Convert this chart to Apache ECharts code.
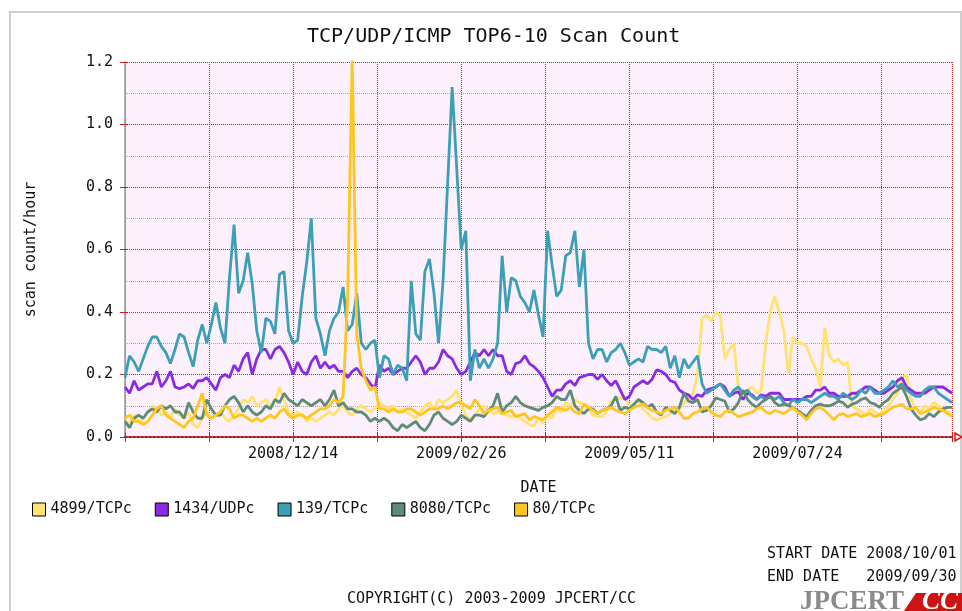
<!DOCTYPE html>
<html>
<head>
<meta charset="utf-8">
<script src="https://cdn.jsdelivr.net/npm/echarts@6/dist/echarts.min.js"></script>
<style>
html, body { margin: 0; padding: 0; background: #fff; }
#chart { width: 962px; height: 611px; }
</style>
</head>
<body>
<div id="chart"></div>
<script>
// one sample every 2 days, day 0 = 2008/10/01
const startDate = '2008/10/01'
const endDate = '2009/09/30'
const sampleStep = 2
const tickLabels = ['2008/12/14', '2009/02/26', '2009/05/11', '2009/07/24']
const seriesNames = ['4899/TCPc', '1434/UDPc', '139/TCPc', '8080/TCPc', '80/TCPc']
const seriesColors = ['#ffe270', '#8a2be2', '#3d9fb6', '#5e8c76', '#ffc61e']

const port4899 = [
  0.05, 0.04, 0.07, 0.05, 0.06, 0.08, 0.10, 0.09, 0.07, 0.08,
  0.06, 0.09, 0.07, 0.06, 0.08, 0.04, 0.03, 0.06, 0.08, 0.06,
  0.07, 0.08, 0.06, 0.05, 0.07, 0.09, 0.12, 0.11, 0.13, 0.10,
  0.11, 0.12, 0.10, 0.11, 0.16, 0.12, 0.08, 0.07, 0.08, 0.07,
  0.05, 0.06, 0.05, 0.06, 0.07, 0.08, 0.07, 0.09, 0.10, 0.08,
  0.07, 0.09, 0.10, 0.09, 0.08, 0.09, 0.11, 0.10, 0.09, 0.10,
  0.08, 0.09, 0.08, 0.07, 0.06, 0.08, 0.10, 0.11, 0.09, 0.12,
  0.11, 0.12, 0.13, 0.15, 0.10, 0.07, 0.055, 0.07, 0.09, 0.10,
  0.085, 0.075, 0.08, 0.075, 0.07, 0.065, 0.07, 0.06, 0.05, 0.04,
  0.035, 0.06, 0.045, 0.07, 0.06, 0.09, 0.08, 0.11, 0.10, 0.12,
  0.11, 0.105, 0.09, 0.07, 0.065, 0.065, 0.08, 0.115, 0.12, 0.125,
  0.13, 0.10, 0.10, 0.12, 0.09, 0.075, 0.06, 0.055, 0.06, 0.065,
  0.075, 0.085, 0.09, 0.11, 0.12, 0.14, 0.20, 0.38, 0.39, 0.37,
  0.40, 0.39, 0.25, 0.28, 0.30, 0.15, 0.14, 0.15, 0.16, 0.14,
  0.15, 0.30, 0.40, 0.45, 0.40, 0.34, 0.20, 0.32, 0.30, 0.30,
  0.29, 0.25, 0.22, 0.16, 0.35, 0.26, 0.24, 0.25, 0.23, 0.24,
  0.10, 0.09, 0.08, 0.07, 0.09, 0.08, 0.07, 0.09, 0.10, 0.12,
  0.14, 0.19, 0.20, 0.12, 0.09, 0.08, 0.10, 0.09, 0.11, 0.10,
  0.09, 0.08, 0.07
]
const port1434 = [
  0.16, 0.14, 0.18, 0.15, 0.16, 0.17, 0.17, 0.21, 0.16, 0.18,
  0.21, 0.16, 0.155, 0.16, 0.17, 0.155, 0.18, 0.18, 0.19, 0.17,
  0.15, 0.19, 0.20, 0.19, 0.23, 0.21, 0.25, 0.27, 0.20, 0.25,
  0.28, 0.28, 0.25, 0.28, 0.29, 0.27, 0.24, 0.20, 0.24, 0.21,
  0.20, 0.24, 0.26, 0.22, 0.24, 0.22, 0.23, 0.21, 0.21, 0.19,
  0.21, 0.22, 0.20, 0.19, 0.17, 0.155, 0.23, 0.21, 0.22, 0.20,
  0.21, 0.22, 0.22, 0.24, 0.26, 0.24, 0.20, 0.22, 0.22, 0.24,
  0.28, 0.26, 0.25, 0.22, 0.20, 0.21, 0.24, 0.27, 0.26, 0.28,
  0.26, 0.28, 0.26, 0.26, 0.21, 0.20, 0.235, 0.24, 0.26, 0.235,
  0.225, 0.21, 0.19, 0.16, 0.13, 0.15, 0.15, 0.17, 0.18, 0.165,
  0.19, 0.195, 0.20, 0.20, 0.185, 0.20, 0.18, 0.165, 0.18, 0.15,
  0.12, 0.13, 0.16, 0.17, 0.18, 0.17, 0.185, 0.215, 0.21, 0.20,
  0.18, 0.175, 0.15, 0.14, 0.135, 0.12, 0.135, 0.13, 0.15, 0.155,
  0.16, 0.17, 0.16, 0.13, 0.14, 0.145, 0.12, 0.14, 0.135, 0.12,
  0.135, 0.13, 0.14, 0.14, 0.14, 0.12, 0.12, 0.12, 0.12, 0.12,
  0.13, 0.13, 0.15, 0.15, 0.16, 0.14, 0.14, 0.13, 0.13, 0.13,
  0.14, 0.14, 0.15, 0.16, 0.16, 0.15, 0.14, 0.14, 0.15, 0.16,
  0.18, 0.19, 0.16, 0.15, 0.14, 0.14, 0.14, 0.15, 0.16, 0.16,
  0.16, 0.15, 0.14
]
const port139 = [
  0.19, 0.26, 0.24, 0.21, 0.25, 0.29, 0.32, 0.32, 0.29, 0.27,
  0.235, 0.28, 0.33, 0.32, 0.27, 0.225, 0.31, 0.36, 0.30, 0.36,
  0.43, 0.35, 0.30, 0.51, 0.68, 0.46, 0.50, 0.59, 0.49, 0.34,
  0.27, 0.38, 0.37, 0.33, 0.52, 0.53, 0.34, 0.30, 0.31, 0.45,
  0.56, 0.70, 0.38, 0.33, 0.26, 0.34, 0.38, 0.40, 0.48, 0.34,
  0.36, 0.46, 0.30, 0.28, 0.30, 0.31, 0.19, 0.26, 0.25, 0.20,
  0.23, 0.22, 0.18, 0.50, 0.33, 0.31, 0.53, 0.57, 0.46, 0.30,
  0.50, 0.81, 1.12, 0.86, 0.60, 0.66, 0.18, 0.28, 0.22, 0.25,
  0.22, 0.25, 0.30, 0.58, 0.40, 0.51, 0.50, 0.45, 0.43, 0.40,
  0.47, 0.39, 0.32, 0.66, 0.55, 0.45, 0.47, 0.58, 0.59, 0.66,
  0.48, 0.60, 0.30, 0.25, 0.28, 0.28, 0.24, 0.27, 0.28, 0.30,
  0.27, 0.23, 0.24, 0.25, 0.24, 0.29, 0.28, 0.28, 0.27, 0.29,
  0.22, 0.26, 0.19, 0.25, 0.22, 0.24, 0.26, 0.17, 0.14, 0.15,
  0.16, 0.17, 0.15, 0.13, 0.15, 0.16, 0.14, 0.15, 0.13, 0.12,
  0.13, 0.12, 0.13, 0.12, 0.13, 0.11, 0.10, 0.12, 0.11, 0.12,
  0.12, 0.11, 0.12, 0.13, 0.14, 0.13, 0.13, 0.12, 0.14, 0.13,
  0.12, 0.13, 0.15, 0.14, 0.16, 0.14, 0.14, 0.15, 0.16, 0.18,
  0.16, 0.17, 0.15, 0.14, 0.13, 0.13, 0.15, 0.16, 0.16, 0.14,
  0.13, 0.12, 0.11
]
const port8080 = [
  0.05, 0.03, 0.06, 0.07, 0.06, 0.08, 0.09, 0.08, 0.10, 0.09,
  0.10, 0.08, 0.08, 0.06, 0.11, 0.08, 0.06, 0.06, 0.12, 0.09,
  0.07, 0.07, 0.10, 0.12, 0.13, 0.11, 0.08, 0.10, 0.08, 0.07,
  0.08, 0.10, 0.09, 0.12, 0.11, 0.14, 0.12, 0.11, 0.10, 0.12,
  0.11, 0.10, 0.11, 0.12, 0.10, 0.12, 0.15, 0.10, 0.11, 0.09,
  0.09, 0.08, 0.08, 0.07, 0.05, 0.06, 0.05, 0.06, 0.05, 0.03,
  0.02, 0.04, 0.03, 0.04, 0.05, 0.03, 0.02, 0.04, 0.07, 0.08,
  0.06, 0.05, 0.04, 0.05, 0.07, 0.06, 0.05, 0.07, 0.07, 0.065,
  0.085, 0.10, 0.14, 0.08, 0.10, 0.11, 0.13, 0.11, 0.10, 0.095,
  0.09, 0.085, 0.095, 0.10, 0.11, 0.13, 0.12, 0.12, 0.15, 0.10,
  0.085, 0.075, 0.09, 0.09, 0.075, 0.085, 0.09, 0.10, 0.13, 0.085,
  0.095, 0.09, 0.105, 0.12, 0.11, 0.095, 0.105, 0.08, 0.07, 0.095,
  0.085, 0.075, 0.095, 0.14, 0.115, 0.11, 0.12, 0.08, 0.085, 0.10,
  0.125, 0.12, 0.115, 0.08, 0.09, 0.11, 0.15, 0.12, 0.105, 0.095,
  0.11, 0.12, 0.13, 0.11, 0.10, 0.105, 0.10, 0.095, 0.085, 0.075,
  0.065, 0.085, 0.10, 0.105, 0.10, 0.10, 0.105, 0.115, 0.11, 0.095,
  0.105, 0.11, 0.12, 0.125, 0.11, 0.105, 0.095, 0.11, 0.12, 0.14,
  0.15, 0.16, 0.13, 0.09, 0.07, 0.055, 0.06, 0.075, 0.065, 0.08,
  0.09, 0.095, 0.095
]
const port80 = [
  0.06, 0.07, 0.05, 0.05, 0.04, 0.05, 0.07, 0.09, 0.10, 0.07,
  0.06, 0.05, 0.04, 0.03, 0.05, 0.06, 0.10, 0.14, 0.07, 0.06,
  0.07, 0.08, 0.10, 0.09, 0.06, 0.07, 0.07, 0.06, 0.05, 0.06,
  0.05, 0.06, 0.07, 0.06, 0.08, 0.09, 0.07, 0.06, 0.07, 0.07,
  0.06, 0.07, 0.08, 0.09, 0.09, 0.10, 0.12, 0.11, 0.13, 0.45,
  1.21, 0.33, 0.22, 0.18, 0.15, 0.16, 0.09, 0.09, 0.08, 0.09,
  0.08, 0.08, 0.09, 0.09, 0.08, 0.07, 0.08, 0.09, 0.09, 0.09,
  0.10, 0.09, 0.10, 0.11, 0.11, 0.10, 0.09, 0.12, 0.10, 0.075,
  0.085, 0.09, 0.095, 0.075, 0.08, 0.085, 0.065, 0.07, 0.075, 0.055,
  0.065, 0.06, 0.055, 0.07, 0.08, 0.095, 0.09, 0.085, 0.095, 0.08,
  0.075, 0.105, 0.095, 0.085, 0.075, 0.085, 0.09, 0.095, 0.085, 0.08,
  0.075, 0.085, 0.095, 0.10, 0.105, 0.095, 0.085, 0.08, 0.075, 0.085,
  0.09, 0.095, 0.08, 0.06, 0.06, 0.075, 0.08, 0.09, 0.095, 0.08,
  0.07, 0.065, 0.08, 0.085, 0.075, 0.065, 0.07, 0.075, 0.08, 0.09,
  0.095, 0.08, 0.075, 0.085, 0.08, 0.075, 0.085, 0.095, 0.08, 0.07,
  0.055, 0.075, 0.09, 0.095, 0.085, 0.07, 0.055, 0.07, 0.075, 0.065,
  0.07, 0.075, 0.065, 0.07, 0.075, 0.065, 0.07, 0.075, 0.085, 0.095,
  0.10, 0.105, 0.09, 0.09, 0.095, 0.075, 0.08, 0.085, 0.095, 0.09,
  0.085, 0.075, 0.065
]

const allSeries = [port4899, port1434, port139, port8080, port80]
const days = port4899.map((v, i) => i * sampleStep)

const mono = 'DejaVu Sans Mono'
const gridRed = '#c82020'
const dayInterval = 37

const chart = echarts.init(document.getElementById('chart'))

const option = {
  animation: false,
  backgroundColor: '#fff',
  title: {
    text: 'TCP/UDP/ICMP TOP6-10 Scan Count',
    left: 302,
    top: 22,
    textStyle: { fontFamily: mono, fontSize: 20, fontWeight: 'normal', color: '#111' }
  },
  legend: {
    left: 27,
    top: 497,
    icon: 'rect',
    itemWidth: 13,
    itemHeight: 13,
    itemGap: 23,
    itemStyle: { borderColor: '#000', borderWidth: 1 },
    textStyle: { fontFamily: mono, fontSize: 15, color: '#111' },
    data: seriesNames
  },
  grid: { left: 125, right: 10, top: 62, bottom: 174, backgroundColor: '#fdf0fd', show: true, borderWidth: 0 },
  xAxis: [
    {
      type: 'value',
      min: 0,
      max: 364,
      interval: dayInterval,
      name: 'DATE',
      nameLocation: 'middle',
      nameGap: 44,
      nameTextStyle: { fontFamily: mono, fontSize: 15, color: '#111' },
      axisLine: { show: true, lineStyle: { color: '#a01818', width: 2, type: 'dotted' } },
      axisTick: { show: true, length: 5, lineStyle: { color: gridRed } },
      axisLabel: {
        fontFamily: mono,
        fontSize: 15,
        color: '#111',
        margin: 10,
        formatter(value) {
          const k = value / (dayInterval * 2)
          if (value > 0 && Number.isInteger(k) && k <= tickLabels.length) return tickLabels[k - 1]
          return ''
        }
      },
      splitLine: { show: true, lineStyle: { color: gridRed, type: 'dotted', width: 1 } }
    },
    {
      type: 'value',
      position: 'top',
      min: 0,
      max: 364,
      interval: dayInterval,
      axisLine: { show: false },
      axisTick: { show: true, length: 4, lineStyle: { color: gridRed } },
      axisLabel: { show: false },
      splitLine: { show: false }
    }
  ],
  yAxis: [
    {
      type: 'value',
      min: 0,
      max: 1.2,
      interval: 0.2,
      name: 'scan count/hour',
      nameLocation: 'middle',
      nameGap: 86,
      nameTextStyle: { fontFamily: mono, fontSize: 15, color: '#111' },
      axisLine: { show: false },
      axisTick: { show: true, length: 5, lineStyle: { color: gridRed } },
      axisLabel: {
        fontFamily: mono,
        fontSize: 15,
        color: '#111',
        margin: 12,
        formatter: v => v.toFixed(1)
      },
      splitLine: { show: true, lineStyle: { color: gridRed, type: 'dotted', width: 1 } },
      minorTick: { show: false, splitNumber: 2 },
      minorSplitLine: { show: true, lineStyle: { color: '#a8a8a8', type: 'dotted', width: 1 } }
    },
    {
      type: 'value',
      position: 'right',
      min: 0,
      max: 1.2,
      interval: 0.2,
      axisLine: { show: true, lineStyle: { color: '#999', width: 1.5 } },
      axisTick: { show: true, length: 3, lineStyle: { color: gridRed } },
      axisLabel: { show: false },
      splitLine: { show: false }
    }
  ],
  graphic: [
    { type: 'rect', shape: { x: 10, y: 12, width: 951, height: 640 }, style: { fill: 'none', stroke: '#cfcfcf', lineWidth: 2 }, silent: true },
    { type: 'polygon', shape: { points: [[955, 433], [962, 437], [955, 441]] }, style: { fill: 'none', stroke: '#e01010', lineWidth: 1.5 } },
    { type: 'text', style: { text: 'START DATE ' + startDate, x: 767, y: 554, font: '15px ' + mono, fill: '#111', textVerticalAlign: 'middle' } },
    { type: 'text', style: { text: 'END DATE   ' + endDate, x: 767, y: 577, font: '15px ' + mono, fill: '#111', textVerticalAlign: 'middle' } },
    { type: 'text', style: { text: 'COPYRIGHT(C) 2003-2009 JPCERT/CC', x: 347, y: 599, font: '15px ' + mono, fill: '#111', textVerticalAlign: 'middle' } },
    { type: 'text', style: { text: 'JPCERT', x: 800, y: 589, font: 'bold 27px "Liberation Serif"', fill: '#8a8a8a', textVerticalAlign: 'top' } },
    { type: 'polygon', shape: { points: [[916, 593], [962, 593], [962, 611], [904, 611]] }, style: { fill: '#cc1414' } },
    { type: 'text', style: { text: 'CC', x: 922, y: 589, font: 'bold italic 27px "Liberation Serif"', fill: '#fff', textVerticalAlign: 'top' } }
  ],
  series: allSeries.map((values, i) => ({
    name: seriesNames[i],
    type: 'line',
    xAxisIndex: 0,
    yAxisIndex: 0,
    showSymbol: false,
    symbol: 'none',
    color: seriesColors[i],
    lineStyle: { width: 2.8, color: seriesColors[i] },
    data: days.map((d, j) => [d, values[j]])
  }))
}

chart.setOption(option)
</script>
</body>
</html>
